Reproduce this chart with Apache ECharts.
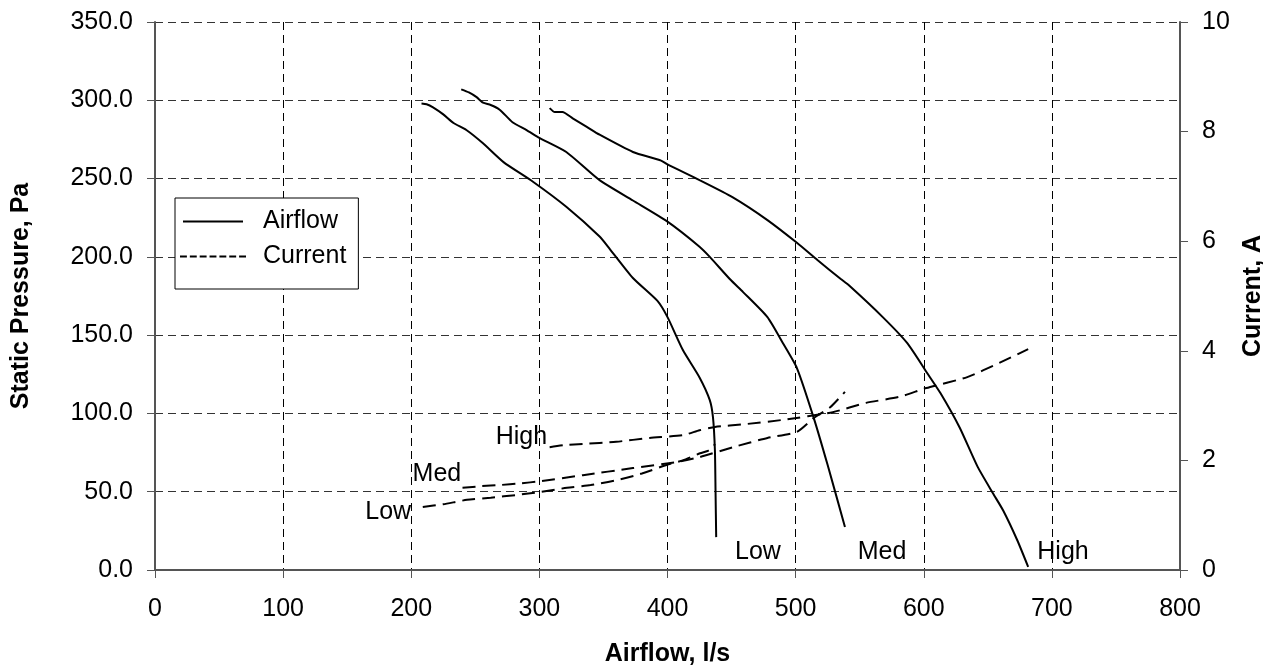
<!DOCTYPE html>
<html><head><meta charset="utf-8">
<script src="https://cdn.jsdelivr.net/npm/echarts@6/dist/echarts.min.js"></script>
<style>html,body{margin:0;padding:0;background:#fff}#c{width:1263px;height:668px}</style>
</head><body><div id="c"></div>
<script>
// Airflow (l/s) vs static pressure (Pa)
const lowFlow = [[208,298],[212,297.5],[217,295.5],[225,291],[233,285.5],[243,281],[256,272.5],[272,260.5],[295,248],[321,232],[347,213],[355,205],[373,186.5],[392,172],[400,161.5],[412,140.5],[425,123],[433,108.5],[435.5,97.5],[437,76.5],[437.5,50],[438,21]];
const medFlow = [[239,307],[245,305],[251,302],[256,298.5],[262,297],[269,294],[279,286],[290,281],[300,276],[321,267],[347,249],[373,236],[400,222.5],[425,206.5],[433,200],[449,185.5],[459,177.5],[478,161.5],[490,145],[501,129],[514,97.5],[525,67],[538.5,27.5]];
const highFlow = [[308,295],[312,292.5],[318,292.5],[326,288.5],[337,283],[347,278],[373,267],[395,261.5],[400,259],[425,249],[451,238],[478,223.5],[501,209],[517,198],[535,186],[542,181.5],[568,161.5],[587,145],[602.5,126],[613,113],[628,91],[642,66],[654,49],[662,38],[673,19],[681.5,2]];
// Airflow (l/s) vs current (A)
const lowCurrent = [[209,1.15],[225,1.2],[243.5,1.28],[262,1.32],[282.5,1.37],[300,1.42],[321.5,1.5],[340,1.55],[360.6,1.64],[380,1.76],[399.6,1.92],[412,2.0],[425.4,2.13],[432,2.18],[435.5,2.24],[437,2.3]];
const medCurrent = [[240,1.5],[255,1.53],[269,1.55],[285,1.58],[300.5,1.62],[334,1.73],[373,1.86],[407,1.97],[425,2.06],[451,2.24],[478,2.41],[501,2.52],[514,2.77],[527,2.97],[538.5,3.25]];
const highCurrent = [[308,2.24],[320,2.28],[334,2.3],[360,2.34],[386,2.41],[412,2.46],[425,2.55],[437,2.61],[460,2.66],[490,2.74],[529,2.88],[555,3.05],[581,3.16],[602,3.32],[634,3.52],[659,3.78],[681.5,4.03]];
// Speed labels: [airflow, pressure, text]
const speedLabels = [[286,85,'High'],[220,61,'Med'],[182,37,'Low'],[470.6,11.5,'Low'],[567.4,11.5,'Med'],[708.7,11.5,'High']];
const xTicks = {min:0,max:800,interval:100};
const yTicks = {min:0,max:350,interval:50};
const y2Ticks = {min:0,max:10,interval:2};

const FONT = 'Liberation Sans, Arial, sans-serif';
const FS = 25;
const chart = echarts.init(document.getElementById('c'));
const flowStyle = {color:'#000',width:2,type:'solid'};
const curStyle = {color:'#000',width:2,type:[13,7]};
const solidIcon = 'path://M0,0H60V2H0Z';
let dashPath = '';
for (let i = 0; i < 7; i++) dashPath += 'M' + (i*10) + ',0h7v2h-7Z';
const dashIcon = 'path://' + dashPath;
function flowSeries(d){return {name:'Airflow',type:'line',data:d,yAxisIndex:0,symbol:'none',smooth:0.2,lineStyle:flowStyle,itemStyle:{color:'#000'},silent:true,z:3};}
function curSeries(d){return {name:'Current',type:'line',data:d,yAxisIndex:1,symbol:'none',smooth:0.2,lineStyle:curStyle,itemStyle:{color:'#000'},silent:true,z:3};}
const axisLine = {show:true,lineStyle:{color:'#555',width:2}};
const tick = {show:true,length:8,inside:false,lineStyle:{color:'#555',width:1}};
chart.setOption({
  animation:false,
  backgroundColor:'#fff',
  grid:{left:155,right:83,top:22,bottom:98,containLabel:false,outerBoundsMode:'none'},
  legend:{
    left:175,top:198,orient:'vertical',
    data:[{name:'Airflow',icon:solidIcon},{name:'Current',icon:dashIcon}],
    itemWidth:66,itemHeight:2,itemGap:10,
    padding:[11,12,20,5],
    borderColor:'#000',borderWidth:1,backgroundColor:'#fff',
    itemStyle:{color:'#000'},
    textStyle:{fontFamily:FONT,fontSize:FS,color:'#000',padding:[0,0,0,12]},
    selectedMode:false
  },
  xAxis:{type:'value',min:xTicks.min,max:xTicks.max,interval:xTicks.interval,
    name:'Airflow, l/s',nameLocation:'middle',nameGap:72,
    nameTextStyle:{fontFamily:FONT,fontSize:FS,fontWeight:'bold',color:'#000'},
    axisLine:axisLine,axisTick:tick,
    axisLabel:{fontFamily:FONT,fontSize:FS,color:'#000',margin:27},
    splitLine:{show:true,lineStyle:{color:'#000',width:1,type:[8,5]}}},
  yAxis:[
    {type:'value',min:yTicks.min,max:yTicks.max,interval:yTicks.interval,position:'left',
     name:'Static Pressure, Pa',nameLocation:'middle',nameGap:121,nameRotate:90,
     nameTextStyle:{fontFamily:FONT,fontSize:FS,fontWeight:'bold',color:'#000'},
     axisLine:axisLine,axisTick:tick,
     axisLabel:{fontFamily:FONT,fontSize:FS,color:'#000',margin:22,formatter:v=>v.toFixed(1)},
     splitLine:{show:true,lineStyle:{color:'#333',width:1,type:[8,5]}}},
    {type:'value',min:y2Ticks.min,max:y2Ticks.max,interval:y2Ticks.interval,position:'right',
     name:'Current, A',nameLocation:'middle',nameGap:57,nameRotate:90,
     nameTextStyle:{fontFamily:FONT,fontSize:FS,fontWeight:'bold',color:'#000'},
     axisLine:axisLine,axisTick:tick,
     axisLabel:{fontFamily:FONT,fontSize:FS,color:'#000',margin:22},
     splitLine:{show:false}}
  ],
  series:[
    flowSeries(lowFlow),flowSeries(medFlow),flowSeries(highFlow),
    curSeries(lowCurrent),curSeries(medCurrent),curSeries(highCurrent),
    {type:'scatter',name:'labels',data:speedLabels.map(d=>({value:[d[0],d[1]],name:d[2]})),
     symbolSize:0,silent:true,z:4,itemStyle:{opacity:1,color:'#000'},
     label:{show:true,position:'inside',formatter:p=>p.name,fontFamily:FONT,fontSize:FS,color:'#000'}}
  ]
});
</script></body></html>
